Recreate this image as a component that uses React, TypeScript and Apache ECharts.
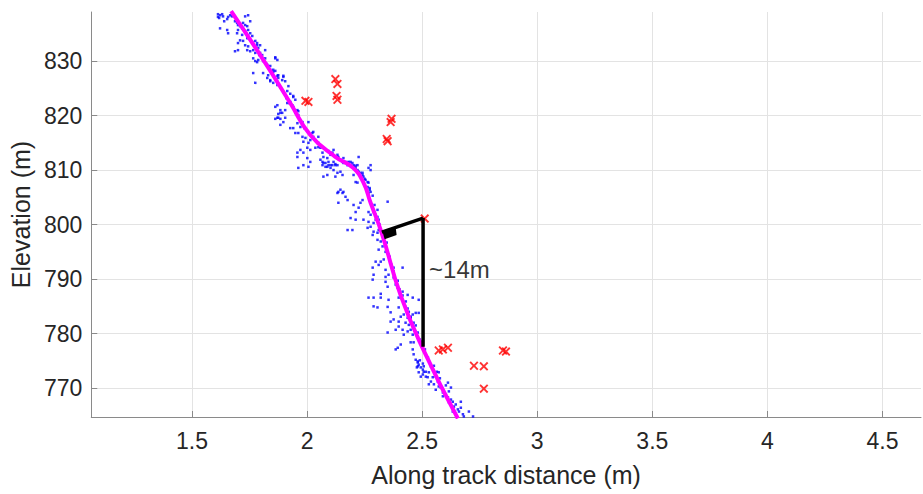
import { useEffect, useRef } from "react";
import * as echarts from "echarts";

// Axis extents and tick positions
const xRange = [1.0626, 4.667];
const yRange = [764.7, 839.0];
const xTicks = [1.5, 2, 2.5, 3, 3.5, 4, 4.5];
const yTicks = [770, 780, 790, 800, 810, 820, 830];

// Photon returns (along-track distance, elevation), upper slope
const photonsUpper: number[][] = [
  [1.613, 838.6], [1.622, 838.4], [1.631, 838.6], [1.613, 838.1], [1.618, 837.9], [1.635, 838.2],
  [1.653, 837.7], [1.657, 838.1], [1.640, 837.3], [1.666, 838.4], [1.674, 838.2], [1.687, 837.3],
  [1.696, 837.0], [1.700, 836.6], [1.709, 836.4], [1.718, 836.0], [1.722, 837.0], [1.731, 836.6],
  [1.740, 836.4], [1.700, 835.7], [1.696, 835.1], [1.718, 834.8], [1.731, 835.5], [1.744, 835.7],
  [1.753, 835.1], [1.762, 834.6], [1.740, 834.2], [1.722, 833.7], [1.709, 833.8], [1.700, 833.3],
  [1.731, 832.9], [1.744, 832.7], [1.762, 833.3], [1.775, 833.7], [1.783, 832.9], [1.788, 832.4],
  [1.766, 832.0], [1.753, 831.8], [1.740, 832.0], [1.744, 838.4], [1.731, 838.2], [1.753, 837.3],
  [1.657, 835.1], [1.653, 835.7], [1.622, 836.0], [1.687, 831.8], [1.700, 832.0], [1.783, 833.3],
  [1.796, 832.9], [1.818, 832.0], [1.862, 830.7], [1.871, 830.2], [1.853, 828.0], [1.875, 827.4],
  [1.897, 827.1], [1.840, 826.5], [1.809, 827.8], [1.766, 830.5], [1.783, 829.8], [1.775, 831.5],
  [1.796, 831.5], [1.805, 831.1], [1.818, 830.5], [1.809, 830.0], [1.788, 830.2], [1.775, 830.0],
  [1.827, 829.3], [1.840, 829.1], [1.853, 828.4], [1.862, 828.2], [1.849, 827.8], [1.831, 827.4],
  [1.871, 827.3], [1.875, 826.9], [1.892, 826.5], [1.897, 827.3], [1.905, 826.3], [1.827, 826.9],
  [1.840, 826.3], [1.853, 826.0], [1.871, 825.6], [1.884, 825.1], [1.919, 825.4], [1.775, 826.0],
  [1.766, 827.8], [1.862, 830.5], [1.940, 823.6], [1.927, 824.0], [1.914, 824.5], [1.927, 822.3],
  [1.884, 820.5], [1.875, 819.6], [1.884, 818.3], [1.905, 821.0], [1.940, 821.6], [1.958, 821.0],
];

// Photon returns around the terrace
const photonsMiddle: number[][] = [
  [1.862, 821.6], [1.871, 819.6], [1.862, 819.4], [1.884, 819.4], [1.892, 820.5], [1.875, 820.3],
  [1.905, 819.6], [1.897, 818.8], [1.914, 822.3], [1.927, 822.5], [1.936, 821.9], [1.940, 823.4],
  [1.949, 822.9], [1.940, 821.4], [1.962, 820.8], [1.962, 820.1], [1.958, 818.6], [1.971, 817.9],
  [1.940, 817.7], [1.927, 817.7], [1.949, 816.8], [1.962, 816.8], [1.980, 816.1], [1.993, 815.9],
  [1.984, 815.2], [2.006, 815.0], [2.023, 816.8], [2.027, 817.0], [2.014, 815.5], [2.036, 815.5],
  [2.045, 815.0], [2.049, 814.2], [2.058, 814.1], [2.036, 814.1], [2.014, 813.7], [2.001, 814.1],
  [1.971, 813.7], [1.958, 813.2], [1.984, 813.2], [2.067, 813.2], [2.071, 812.4], [2.088, 812.2],
  [2.102, 812.8], [2.115, 813.7], [2.110, 813.2], [2.132, 812.4], [2.145, 811.9], [2.154, 811.5],
  [2.158, 811.3], [2.167, 811.5], [2.176, 810.9], [2.189, 811.5], [2.197, 811.3], [2.202, 810.6],
  [2.219, 810.9], [2.224, 812.4], [2.058, 811.9], [2.067, 811.5], [2.080, 811.3], [2.093, 811.5],
  [2.102, 810.9], [2.115, 811.5], [2.123, 810.9], [2.088, 810.6], [2.014, 811.5], [2.006, 810.6],
  [1.984, 810.9], [1.962, 810.4], [1.958, 812.4], [2.001, 812.2], [1.884, 821.0], [1.871, 821.9],
  [2.006, 818.8], [2.027, 816.1], [2.049, 816.1], [2.132, 812.8], [2.071, 811.3], [2.093, 810.9],
  [2.067, 810.9], [2.080, 810.6], [2.110, 810.9], [2.123, 811.1], [2.132, 810.9], [2.102, 810.4],
  [2.115, 810.0], [2.088, 809.1], [2.071, 808.8], [2.123, 808.8], [2.132, 809.5], [2.145, 809.7],
  [2.154, 809.1], [2.176, 811.3], [2.180, 811.5], [2.189, 810.9], [2.197, 810.6], [2.202, 810.9],
  [2.211, 810.4], [2.219, 810.0], [2.224, 809.7], [2.232, 809.5], [2.241, 809.1], [2.245, 808.8],
  [2.254, 808.2], [2.263, 807.8], [2.267, 807.7], [2.263, 806.9], [2.272, 806.7], [2.276, 806.0],
  [2.267, 805.8], [2.276, 810.9], [2.267, 810.4], [2.276, 810.0], [2.202, 809.1], [2.211, 807.8],
  [2.219, 807.7], [2.136, 806.0], [2.145, 806.4], [2.158, 806.0], [2.154, 805.8], [2.132, 805.8],
  [2.136, 804.0], [2.167, 805.1], [2.176, 804.5], [2.202, 803.6], [2.232, 804.0], [2.241, 804.5],
  [2.211, 802.3], [2.224, 803.1], [2.289, 802.3], [2.298, 801.8], [2.306, 801.4], [2.311, 800.9],
  [2.298, 800.9], [2.289, 800.3], [2.350, 804.2], [2.189, 801.2], [2.211, 800.9], [2.176, 799.0],
  [2.197, 799.0], [2.263, 799.4], [2.276, 799.6], [2.289, 798.7], [2.306, 798.5], [2.311, 799.0],
  [2.328, 797.8], [2.320, 796.9], [2.306, 797.2], [2.285, 798.1], [2.328, 796.0], [2.341, 796.3],
  [2.333, 797.6], [2.267, 802.3], [2.276, 801.8], [2.245, 800.9], [2.267, 800.5],
];

// Photon returns, lower slope
const photonsLower: number[][] = [
  [2.311, 795.4], [2.341, 795.0], [2.354, 794.5], [2.298, 793.2], [2.320, 793.2], [2.333, 793.6],
  [2.363, 793.0], [2.285, 792.1], [2.311, 792.6], [2.341, 791.7], [2.376, 792.1], [2.415, 792.1],
  [2.289, 790.8], [2.341, 790.4], [2.354, 790.8], [2.376, 790.3], [2.285, 789.9], [2.341, 789.5],
  [2.350, 788.6], [2.385, 789.0], [2.394, 788.4], [2.415, 787.7], [2.437, 787.1], [2.267, 786.6],
  [2.289, 786.6], [2.320, 786.6], [2.354, 786.2], [2.320, 787.3], [2.398, 786.6], [2.420, 785.7],
  [2.459, 786.6], [2.485, 786.2], [2.306, 784.8], [2.350, 784.9], [2.398, 784.8], [2.428, 784.9],
  [2.442, 784.0], [2.363, 783.9], [2.376, 782.6], [2.407, 783.1], [2.420, 783.5], [2.437, 782.9],
  [2.450, 783.1], [2.459, 783.5], [2.472, 783.8], [2.485, 783.8], [2.363, 782.2], [2.398, 782.2],
  [2.428, 782.0], [2.442, 781.6], [2.463, 782.0], [2.350, 780.2], [2.398, 781.3], [2.415, 780.7],
  [2.437, 780.4], [2.450, 780.7], [2.385, 780.7], [2.420, 779.8], [2.459, 779.8], [2.481, 779.3],
  [2.463, 778.4], [2.494, 778.5], [2.289, 785.0], [2.385, 777.1], [2.394, 777.4], [2.407, 778.0],
  [2.450, 778.4], [2.459, 777.1], [2.463, 776.2], [2.472, 775.2], [2.481, 774.7], [2.485, 774.3],
  [2.494, 773.8], [2.503, 773.4], [2.485, 772.9], [2.503, 772.5], [2.516, 773.0], [2.529, 772.9],
  [2.538, 774.0], [2.524, 772.0], [2.546, 772.0], [2.559, 772.1], [2.568, 771.2], [2.551, 770.7],
  [2.529, 770.7], [2.572, 770.3], [2.581, 770.1], [2.594, 769.4], [2.603, 768.8], [2.590, 768.5],
  [2.612, 768.3], [2.625, 767.9], [2.616, 767.4], [2.633, 767.5], [2.638, 766.6], [2.655, 766.1],
  [2.668, 766.4], [2.633, 765.7], [2.677, 765.2], [2.668, 767.5], [2.703, 765.7], [2.721, 764.8],
  [2.681, 764.8], [2.612, 771.0], [2.625, 770.1], [2.572, 772.9], [2.481, 774.9], [2.481, 774.0],
  [2.490, 775.1], [2.503, 774.5], [2.507, 774.0], [2.477, 773.8], [2.507, 773.0], [2.516, 772.1],
  [2.494, 772.1], [2.538, 771.2], [2.559, 769.7], [2.590, 769.2],
];

// Photon returns lying close to the ground surface
const photonsCore: number[][] = [
  [1.692, 837.5], [1.709, 836.8], [1.735, 835.1], [1.748, 834.2], [1.762, 833.5], [1.792, 831.1],
  [1.823, 829.5], [1.840, 828.4], [1.857, 827.1], [1.871, 826.2], [1.897, 824.3], [1.910, 823.2],
  [1.923, 822.3], [1.949, 820.5], [1.980, 818.8], [1.988, 817.7], [2.023, 815.9], [2.049, 815.0],
  [2.067, 814.2], [2.093, 813.5], [2.136, 812.4], [2.158, 812.2], [2.211, 810.8], [2.241, 809.5],
  [2.250, 808.4], [2.272, 806.4], [2.285, 805.3], [2.293, 803.6], [2.306, 802.7], [2.315, 800.0],
  [2.337, 798.0], [2.346, 796.7], [2.359, 794.1], [2.368, 792.6], [2.376, 791.4], [2.394, 789.7],
  [2.402, 788.1], [2.415, 787.0], [2.429, 785.9], [2.437, 784.6], [2.450, 782.9], [2.472, 781.5],
  [2.481, 780.2], [2.490, 778.9], [2.512, 777.1], [2.525, 775.6], [2.551, 774.1], [2.564, 773.0],
  [2.577, 771.8], [2.603, 770.5], [2.616, 769.4], [2.646, 767.0], [2.660, 765.7],
];

// Fitted ground surface
const surfaceFit: number[][] = [
  [1.670, 839.16], [1.805, 830.55], [1.927, 822.31], [2.014, 816.45], [2.123, 812.42],
  [2.200, 810.40], [2.245, 807.70], [2.276, 804.00], [2.324, 798.50], [2.407, 786.96],
  [2.507, 776.89], [2.655, 764.43],
];

// Above-ground returns (red crosses)
const canopyX = [1.993, 2.006, 2.123, 2.132, 2.128, 2.132, 2.367, 2.363, 2.346, 2.350, 2.511,
  2.572, 2.590, 2.612, 2.725, 2.768, 2.768, 2.851, 2.864];
const canopyY = [822.7, 822.5, 826.7, 825.8, 823.6, 822.9, 819.4, 818.8, 815.7, 815.3, 801.1,
  776.9, 777.1, 777.4, 774.1, 774.0, 769.9, 776.9, 776.7];

// Height annotation
const normalLine = [[2.325, 798.6], [2.504, 801.2]];
const heightLine = [[2.504, 801.2], [2.504, 777.6]];
const rightAngleMark = [[2.328, 798.7], [2.385, 799.5], [2.389, 798.1], [2.337, 797.3]];
const heightLabel = { x: 2.504, y: 791.7, text: "~14m" };

const FONT = "'Liberation Sans', Arial, Helvetica, sans-serif";
const TEXT = "#262626";
const AXIS = "#8a8a8a";
const CROSS = "path://M0,1.5L1.5,0L5,3.5L8.5,0L10,1.5L6.5,5L10,8.5L8.5,10L5,6.5L1.5,10L0,8.5L3.5,5Z";

export default function App() {
  const ref = useRef<HTMLDivElement>(null);

  useEffect(() => {
    if (!ref.current) return;
    const chart = echarts.init(ref.current, null, { renderer: "svg" });
    const photonStyle = {
      type: "scatter",
      symbol: "rect",
      symbolSize: 2.5,
      itemStyle: { color: "#0000ff" },
      z: 2,
      silent: true,
    };
    chart.setOption({
      animation: false,
      backgroundColor: "#ffffff",
      grid: { left: 91, right: 2, top: 12, bottom: 77, containLabel: false },
      xAxis: {
        type: "value",
        min: xRange[0],
        max: xRange[1],
        name: "Along track distance (m)",
        nameLocation: "middle",
        nameGap: 45,
        nameTextStyle: { fontSize: 25, color: TEXT, fontFamily: FONT },
        axisLine: { show: true, lineStyle: { color: AXIS, width: 1 } },
        axisTick: { show: true, inside: true, length: 6, customValues: xTicks, lineStyle: { color: AXIS } },
        axisLabel: { customValues: xTicks, fontSize: 23, color: TEXT, fontFamily: FONT, margin: 12, formatter: (v: number) => String(v) },
        splitLine: { show: true, lineStyle: { color: "#e3e3e3", width: 1 } },
      },
      yAxis: {
        type: "value",
        min: yRange[0],
        max: yRange[1],
        name: "Elevation (m)",
        nameLocation: "middle",
        nameGap: 52,
        nameTextStyle: { fontSize: 25, color: TEXT, fontFamily: FONT },
        axisLine: { show: true, lineStyle: { color: AXIS, width: 1 } },
        axisTick: { show: true, inside: true, length: 6, customValues: yTicks, lineStyle: { color: AXIS } },
        axisLabel: { customValues: yTicks, fontSize: 23, color: TEXT, fontFamily: FONT, margin: 9, formatter: (v: number) => String(v) },
        splitLine: { show: true, lineStyle: { color: "#e3e3e3", width: 1 } },
      },
      series: [
        { ...photonStyle, name: "photons-upper", data: photonsUpper },
        { ...photonStyle, name: "photons-middle", data: photonsMiddle },
        { ...photonStyle, name: "photons-lower", data: photonsLower },
        { ...photonStyle, name: "photons-core", data: photonsCore },
        {
          type: "line",
          name: "surface",
          data: surfaceFit,
          smooth: 0.5,
          showSymbol: false,
          lineStyle: { color: "#ff00ff", width: 4 },
          z: 3,
          silent: true,
        },
        {
          type: "scatter",
          name: "canopy",
          data: canopyX.map((x, i) => [x, canopyY[i]]),
          symbol: CROSS,
          symbolSize: 9,
          itemStyle: { color: "#ff0000" },
          z: 4,
          silent: true,
        },
        {
          type: "line",
          data: normalLine,
          showSymbol: false,
          lineStyle: { color: "#000000", width: 3.5 },
          z: 5,
          silent: true,
        },
        {
          type: "line",
          data: heightLine,
          showSymbol: false,
          lineStyle: { color: "#000000", width: 3.5 },
          z: 5,
          silent: true,
        },
        {
          type: "custom",
          data: [[0]],
          z: 5,
          silent: true,
          renderItem: (_params: any, api: any) => ({
            type: "polygon",
            shape: { points: rightAngleMark.map((p) => api.coord(p)) },
            style: { fill: "#000000" },
          }),
        },
        {
          type: "scatter",
          data: [[heightLabel.x, heightLabel.y]],
          symbolSize: 0,
          z: 6,
          silent: true,
          label: {
            show: true,
            position: "right",
            distance: 6,
            formatter: heightLabel.text,
            fontSize: 24,
            color: "#000000",
            fontFamily: FONT,
          },
        },
      ],
    });
    return () => chart.dispose();
  }, []);

  return (
    <div
      ref={ref}
      style={{ position: "fixed", left: 0, top: 0, width: 923, height: 494, background: "#fff" }}
    />
  );
}
